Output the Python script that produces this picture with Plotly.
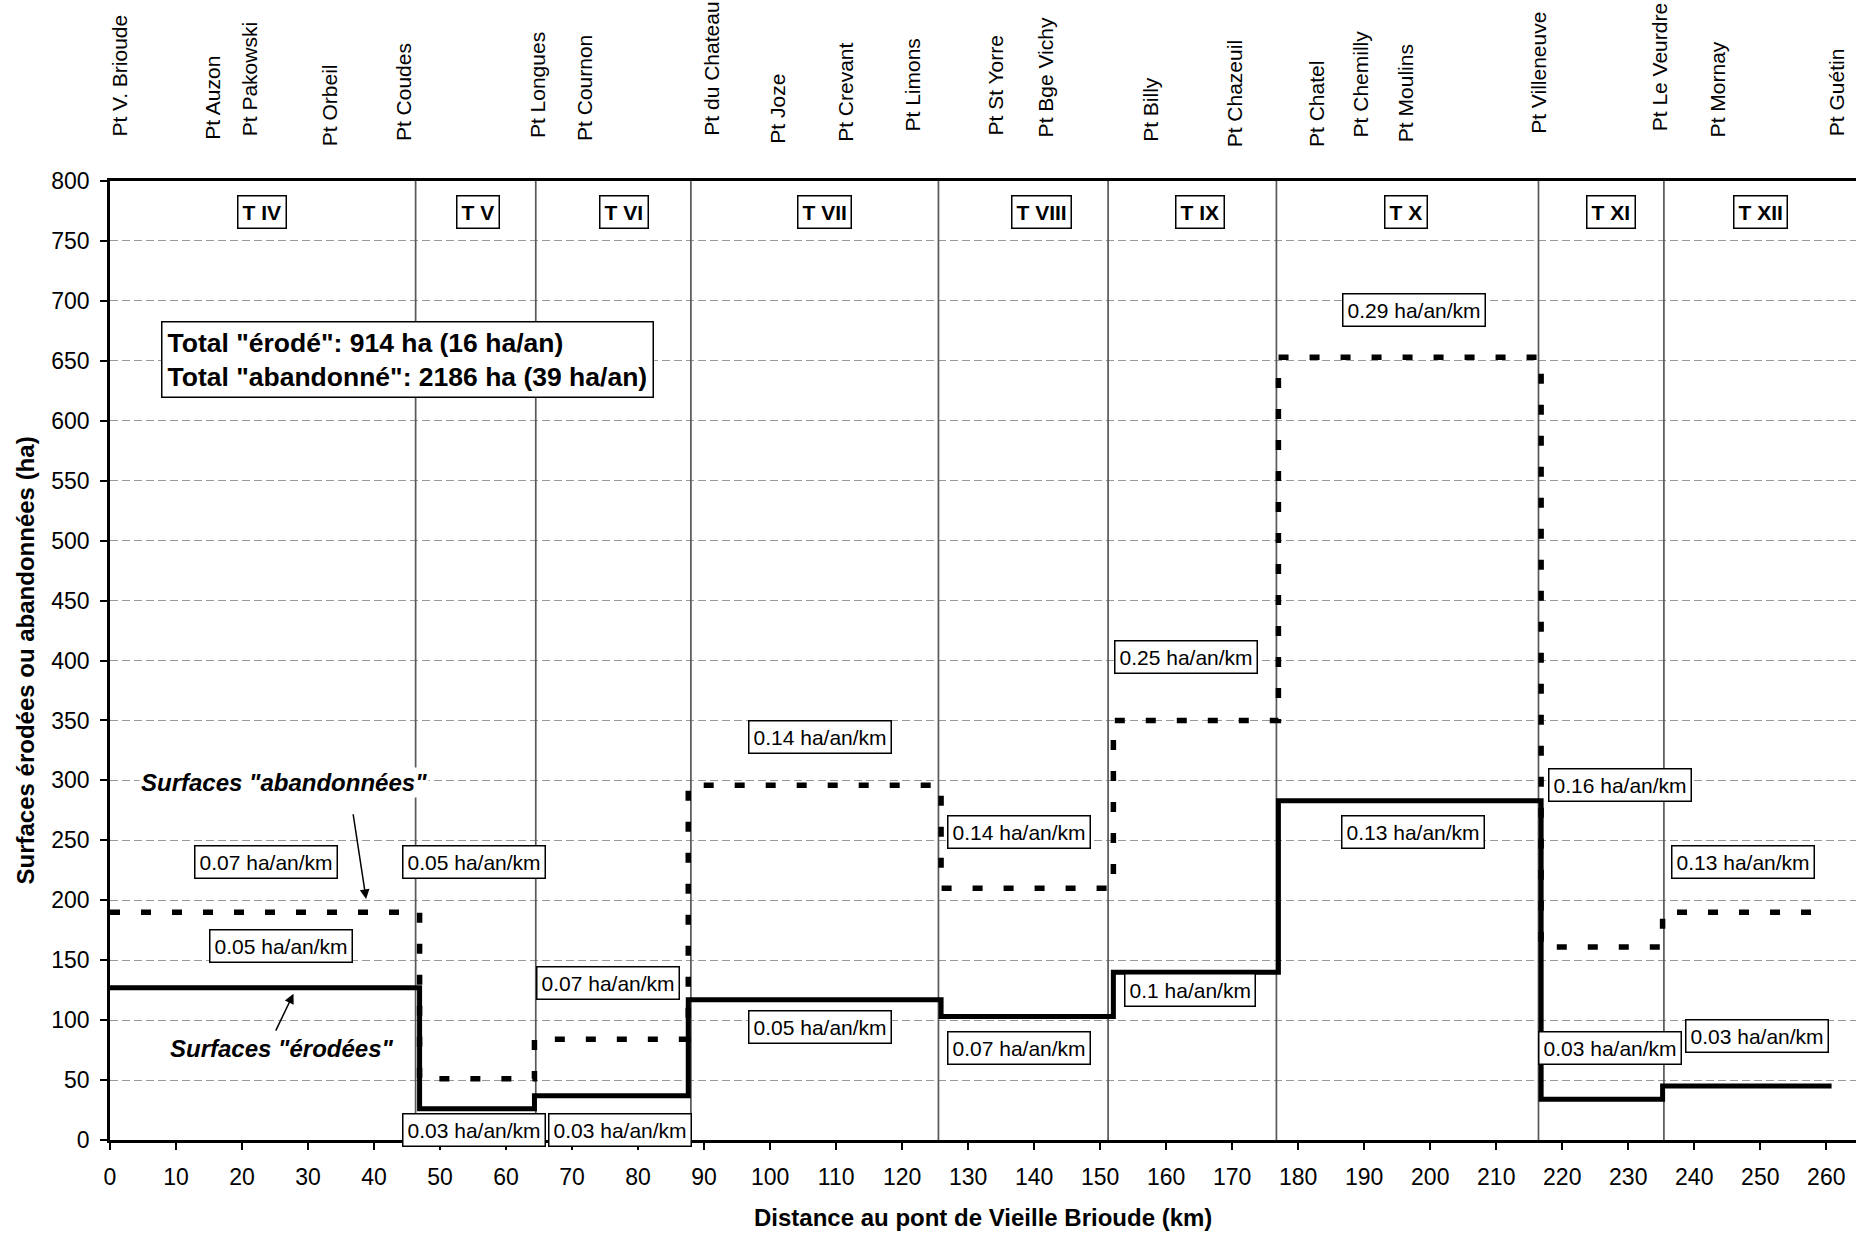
import plotly.graph_objects as go

# Step limits along the river (km) and surface per tronçon (ha)
step_km = [0, 46.9, 64.3, 87.6, 125.9, 152.0, 177.0, 216.8, 235.2, 260.8]
eroded_ha = [127, 26, 37, 117, 103, 140, 283, 34, 45]
abandoned_ha = [190, 51, 84, 296, 210, 350, 653, 161, 190]

# Tronçon limits and names
section_bounds_km = [46.3, 64.5, 88.0, 125.5, 151.2, 176.7, 216.4, 235.4]
section_names = ["T IV", "T V", "T VI", "T VII", "T VIII", "T IX", "T X", "T XI", "T XII"]
section_label_km = [23.0, 55.8, 77.8, 108.3, 141.1, 165.1, 196.3, 227.4, 250.1]

# Bridges (names shown above the plot)
bridge_names = [
    "Pt V. Brioude", "Pt Auzon", "Pt Pakowski", "Pt Orbeil", "Pt Coudes",
    "Pt Longues", "Pt Cournon", "Pt du Chateau", "Pt Joze", "Pt Crevant",
    "Pt Limons", "Pt St Yorre", "Pt Bge Vichy", "Pt Billy", "Pt Chazeuil",
    "Pt Chatel", "Pt Chemilly", "Pt Moulins", "Pt Villeneuve", "Pt Le Veurdre",
    "Pt Mornay", "Pt Guétin",
]
bridge_km = [1.3, 15.4, 21.1, 33.2, 44.4, 64.7, 71.8, 91.0, 101.0, 111.4, 121.5,
             134.0, 141.7, 157.6, 170.4, 182.7, 189.5, 196.2, 216.3, 234.7, 243.5, 261.5]

# Rates per tronçon (ha/an/km)
rate_text = [
    "0.07 ha/an/km", "0.05 ha/an/km", "0.05 ha/an/km", "0.03 ha/an/km",
    "0.07 ha/an/km", "0.03 ha/an/km", "0.14 ha/an/km", "0.05 ha/an/km",
    "0.14 ha/an/km", "0.07 ha/an/km", "0.25 ha/an/km", "0.1 ha/an/km",
    "0.29 ha/an/km", "0.13 ha/an/km", "0.16 ha/an/km", "0.03 ha/an/km",
    "0.13 ha/an/km", "0.03 ha/an/km",
]
rate_km = [23.7, 25.9, 55.2, 55.2, 75.5, 77.3, 107.6, 107.6, 137.7, 137.7,
           163.0, 163.6, 197.6, 197.4, 228.8, 227.3, 247.4, 249.5]
rate_ha = [232, 162, 232, 8, 131, 8, 336, 94, 257, 77, 403, 125, 692, 257, 296, 77, 232, 87]

# pixel offsets of bridge labels above the top of the frame (label placement only)
bridge_label_lift = [42, 39, 43, 33, 38, 41, 38, 43, 35, 37, 47, 43, 42, 37, 32, 32, 42, 37, 45, 48, 42, 43]

FONT = "Liberation Sans, Arial, sans-serif"

fig = go.Figure()

for xb in section_bounds_km:
    fig.add_shape(type="line", x0=xb, x1=xb, y0=0, y1=800, xref="x", yref="y",
                  line=dict(color="#585858", width=1.7), layer="between")

fig.add_trace(go.Scatter(
    x=step_km, y=abandoned_ha + [abandoned_ha[-1]], mode="lines",
    line=dict(shape="hv", color="black", width=5.5, dash="10px,21px"),
    showlegend=False, hoverinfo="skip",
))
fig.add_trace(go.Scatter(
    x=step_km, y=eroded_ha + [eroded_ha[-1]], mode="lines",
    line=dict(shape="hv", color="black", width=5),
    showlegend=False, hoverinfo="skip",
))

annotations = []
box = dict(bgcolor="white", bordercolor="black", borderwidth=1.5, showarrow=False)

for name, xk in zip(section_names, section_label_km):
    annotations.append(dict(x=xk, y=774, text="<b>%s</b>" % name, borderpad=4,
                            font=dict(family=FONT, size=21, color="black"), **box))

for txt, xk, yv in zip(rate_text, rate_km, rate_ha):
    annotations.append(dict(x=xk, y=yv, text=txt, borderpad=4,
                            font=dict(family=FONT, size=21, color="black"), **box))

for name, xk, lift in zip(bridge_names, bridge_km, bridge_label_lift):
    annotations.append(dict(x=xk, y=800, yshift=lift, text=name, textangle=-90,
                            yanchor="bottom", showarrow=False,
                            font=dict(family=FONT, size=21, color="black")))

annotations.append(dict(
    x=45.0, y=651,
    text='<b>Total "érodé": 914 ha (16 ha/an)</b><br><b>Total "abandonné": 2186 ha (39 ha/an)</b>',
    align="left", borderpad=5, font=dict(family=FONT, size=26.5, color="black"), **box))

annotations.append(dict(x=26.4, y=298, text='<b><i>Surfaces "abandonnées"</i></b>',
                        bgcolor="white", showarrow=False,
                        font=dict(family=FONT, size=24, color="black")))
annotations.append(dict(x=26.0, y=76, text='<b><i>Surfaces "érodées"</i></b>',
                        showarrow=False, font=dict(family=FONT, size=24, color="black")))

# arrows
annotations.append(dict(x=38.8, y=201, ax=36.8, ay=273, axref="x", ayref="y", text="",
                        showarrow=True, arrowhead=2, arrowsize=1.3, arrowwidth=1.5,
                        arrowcolor="black"))
annotations.append(dict(x=27.8, y=122, ax=25.0, ay=90, axref="x", ayref="y", text="",
                        showarrow=True, arrowhead=2, arrowsize=1.3, arrowwidth=1.5,
                        arrowcolor="black"))

# axis titles
annotations.append(dict(xref="paper", yref="paper", x=0.5, y=0, yshift=-77,
                        xanchor="center", yanchor="middle",
                        text="<b>Distance au pont de Vieille Brioude (km)</b>",
                        showarrow=False, font=dict(family=FONT, size=24, color="black")))
annotations.append(dict(xref="paper", yref="paper", x=-(110 - 25) / 1746, y=0.5,
                        xanchor="center", yanchor="middle",
                        text="<b>Surfaces érodées ou abandonnées (ha)</b>", textangle=-90,
                        showarrow=False, font=dict(family=FONT, size=24, color="black")))

fig.update_layout(
    width=1856, height=1233,
    margin=dict(l=110, r=0, t=181, b=93),
    paper_bgcolor="white", plot_bgcolor="white",
    font=dict(family=FONT, size=23, color="black"),
    annotations=annotations,
    showlegend=False,
)
fig.update_xaxes(
    range=[0, 264.5], tickmode="array", tickvals=list(range(0, 261, 10)),
    showgrid=False, zeroline=False, showline=True, linecolor="black", linewidth=2.5,
    mirror=True, ticks="outside", ticklen=7, tickwidth=1.5, tickcolor="black",
    ticklabelstandoff=8, tickfont=dict(family=FONT, size=23, color="black"),
)
fig.update_yaxes(
    range=[0, 800], tickmode="array", tickvals=list(range(0, 801, 50)),
    showgrid=True, gridcolor="#999999", gridwidth=1.2, griddash="8px,4px",
    zeroline=False, showline=True, linecolor="black", linewidth=2.5,
    ticks="outside", ticklen=7, tickwidth=1.5, tickcolor="black",
    ticklabelstandoff=6, tickfont=dict(family=FONT, size=23, color="black"),
)

fig.write_html("out.html", config={"displayModeBar": False},
               post_script="document.body.style.margin='0';")
